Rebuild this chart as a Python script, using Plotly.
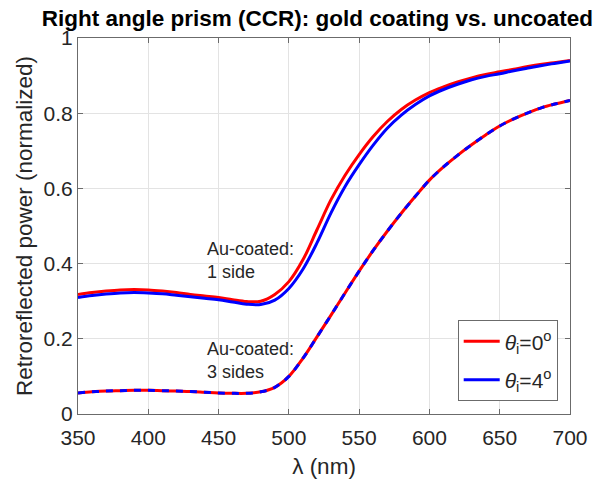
import plotly.graph_objects as go

# Wavelength grid (nm)
wavelength = [350, 360, 370, 380, 390, 400, 410, 420, 430, 440, 450, 460,
              470, 480, 490, 500, 510, 520, 530, 540, 550, 560, 570, 580,
              590, 600, 610, 620, 630, 640, 650, 660, 670, 680, 690, 700]

# Au-coated on 1 side, incidence 0 deg and 4 deg
one_side_0deg = [0.318, 0.323, 0.327, 0.330, 0.331, 0.330, 0.327, 0.323, 0.318, 0.314, 0.310, 0.304,
                 0.299, 0.300, 0.318, 0.352, 0.410, 0.490, 0.570, 0.635, 0.690, 0.738, 0.778, 0.810,
                 0.835, 0.855, 0.870, 0.883, 0.894, 0.903, 0.910, 0.917, 0.924, 0.930, 0.935, 0.940]
one_side_4deg = [0.310, 0.315, 0.319, 0.322, 0.323, 0.322, 0.320, 0.316, 0.312, 0.308, 0.304, 0.298,
                 0.292, 0.291, 0.303, 0.334, 0.385, 0.455, 0.535, 0.605, 0.663, 0.715, 0.760, 0.795,
                 0.823, 0.846, 0.863, 0.877, 0.889, 0.898, 0.905, 0.913, 0.920, 0.927, 0.933, 0.939]

# Au-coated on 3 sides, incidence 0 deg and 4 deg
three_sides_0deg = [0.056, 0.059, 0.061, 0.062, 0.063, 0.063, 0.062, 0.061, 0.060, 0.058, 0.056, 0.055,
                    0.055, 0.059, 0.071, 0.100, 0.148, 0.205, 0.263, 0.322, 0.380, 0.435, 0.486, 0.534,
                    0.579, 0.622, 0.657, 0.688, 0.716, 0.742, 0.766, 0.785, 0.801, 0.815, 0.825, 0.834]
three_sides_4deg = [0.056, 0.059, 0.061, 0.062, 0.063, 0.063, 0.062, 0.061, 0.060, 0.058, 0.056, 0.055,
                    0.055, 0.059, 0.071, 0.100, 0.148, 0.205, 0.263, 0.322, 0.380, 0.435, 0.486, 0.534,
                    0.579, 0.622, 0.657, 0.688, 0.716, 0.742, 0.766, 0.785, 0.801, 0.815, 0.825, 0.834]

x_ticks = [350, 400, 450, 500, 550, 600, 650, 700]
y_ticks = [0, 0.2, 0.4, 0.6, 0.8, 1]

RED = "#ff0000"
BLUE = "#0000ff"
FONT = "Liberation Sans, Arial, sans-serif"
TEXT = "#262626"
AXIS = "#6b6b6b"

fig = go.Figure()
fig.add_trace(go.Scatter(x=wavelength, y=one_side_0deg, mode="lines",
                         line=dict(color=RED, width=3, shape="spline"),
                         legendgroup="deg0",
                         name="<i>θ</i><sub>i</sub>=0<sup>o</sup>"))
fig.add_trace(go.Scatter(x=wavelength, y=one_side_4deg, mode="lines",
                         line=dict(color=BLUE, width=3, shape="spline"),
                         legendgroup="deg4",
                         name="<i>θ</i><sub>i</sub>=4<sup>o</sup>"))
fig.add_trace(go.Scatter(x=wavelength, y=three_sides_0deg, mode="lines",
                         line=dict(color=RED, width=3, shape="spline"),
                         legendgroup="deg0", showlegend=False))
fig.add_trace(go.Scatter(x=wavelength, y=three_sides_4deg, mode="lines",
                         line=dict(color=BLUE, width=3, shape="spline", dash="7px,7px"),
                         legendgroup="deg4", showlegend=False))

axis_common = dict(
    showgrid=True, gridcolor="#e3e3e3", gridwidth=1,
    showline=True, linecolor=AXIS, linewidth=1, mirror="allticks",
    ticks="inside", ticklen=5, tickcolor=AXIS,
    zeroline=False, automargin=False,
    tickfont=dict(family=FONT, size=21, color=TEXT),
)

fig.update_xaxes(range=[350, 700], tickvals=x_ticks, ticklabelstandoff=5, **axis_common,
                 title=dict(text="λ (nm)", font=dict(family=FONT, size=22.5, color=TEXT),
                            standoff=10))
fig.update_yaxes(range=[0, 1], tickvals=y_ticks, **axis_common,
                 title=dict(text="Retroreflected power (normalized)",
                            font=dict(family=FONT, size=22.5, color=TEXT), standoff=4))

fig.add_annotation(x=440.5, y=0.407, xref="x", yref="y", xanchor="left", yanchor="middle",
                   text="Au-coated:<br>1 side", showarrow=False, align="left",
                   font=dict(family=FONT, size=18, color=TEXT))
fig.add_annotation(x=440.5, y=0.142, xref="x", yref="y", xanchor="left", yanchor="middle",
                   text="Au-coated:<br>3 sides", showarrow=False, align="left",
                   font=dict(family=FONT, size=18, color=TEXT))

fig.update_layout(
    width=608, height=481,
    margin=dict(l=77.5, r=38.4, t=38.3, b=67.2),
    paper_bgcolor="white", plot_bgcolor="white",
    title=dict(text="<b>Right angle prism (CCR): gold coating vs. uncoated</b>",
               x=0.522, xref="container", xanchor="center",
               y=0.962, yref="container", yanchor="middle",
               font=dict(family=FONT, size=22.5, color="#000000")),
    legend=dict(x=0.975, y=0.034, xanchor="right", yanchor="bottom",
                bgcolor="white", bordercolor=AXIS, borderwidth=1,
                tracegroupgap=8, itemwidth=36,
                font=dict(family=FONT, size=21, color=TEXT)),
    showlegend=True,
)

fig.write_html("out.html")
